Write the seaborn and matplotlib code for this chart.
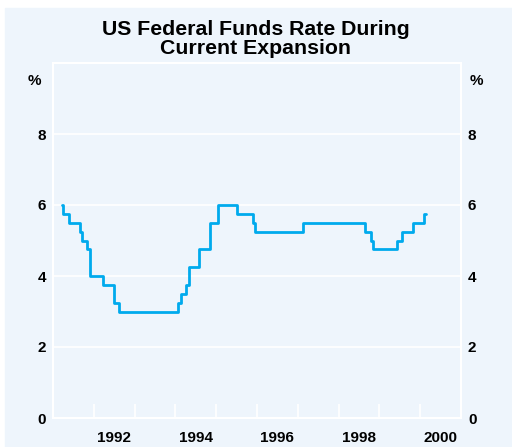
import numpy as np
import pandas as pd
import matplotlib
matplotlib.use("Agg")
import matplotlib.pyplot as plt
from matplotlib.patches import Rectangle
import seaborn as sns

# Fed funds target changes (decimal years)
dates = [1991.22, 1991.25, 1991.385, 1991.65, 1991.71, 1991.84, 1991.91,
         1992.23, 1992.50, 1992.62, 1994.07, 1994.13, 1994.25, 1994.33,
         1994.59, 1994.85, 1995.05, 1995.52, 1995.91, 1995.95, 1997.13,
         1998.65, 1998.80, 1998.85, 1999.42, 1999.55, 1999.83, 2000.09,
         2000.13]
rates = [6.0, 5.75, 5.5, 5.25, 5.0, 4.75, 4.0,
         3.75, 3.25, 3.0, 3.25, 3.5, 3.75, 4.25,
         4.75, 5.5, 6.0, 5.75, 5.5, 5.25, 5.5,
         5.25, 5.0, 4.75, 5.0, 5.25, 5.5, 5.75,
         5.75]
year_labels = ["1992", "1994", "1996", "1998", "2000"]
y_ticks = [0, 2, 4, 6, 8]

bg = "#eef5fc"
line_col = "#00aaed"
fs = 11

sns.set_theme(style="white", rc={"axes.facecolor": bg, "text.color": "black",
                                 "xtick.color": "black", "ytick.color": "black"})
plt.rcParams["font.family"] = ["Liberation Sans", "DejaVu Sans"]
plt.rcParams["font.weight"] = "bold"

df = pd.DataFrame({"date": dates, "rate": rates})

fig = plt.figure(figsize=(5.12, 4.47), dpi=100, facecolor="white")
# light blue panel behind everything
panel = Rectangle((5 / 512, 0), 1, (447 - 8) / 447,
                  transform=fig.transFigure, color=bg, zorder=-10)
fig.add_artist(panel)
ax = fig.add_axes([53 / 512, 29 / 447, 408 / 512, 355 / 447])
ax.set_facecolor(bg)
ax.set_zorder(5)

sns.lineplot(data=df, x="date", y="rate", ax=ax, color=line_col, lw=2.0,
             drawstyle="steps-post", estimator=None)

ax.set_xlim(1991, 2001)
ax.set_ylim(0, 10)
ax.set_xlabel("")
ax.set_ylabel("")

# year boundary ticks (white, pointing up) and labels centred in the year
ax.set_xticks(np.arange(1992, 2001))
ax.set_xticklabels([])
ax.tick_params(axis="x", which="major", direction="in", length=10,
               width=1.2, color="white", bottom=True)
ax.set_xticks([int(y) + 0.5 for y in year_labels], minor=True)
ax.set_xticklabels(year_labels, minor=True, fontsize=fs, fontweight="bold")
ax.tick_params(axis="x", which="minor", length=0, pad=9, labelcolor="black")

ax.set_yticks(y_ticks)
ax.set_yticklabels([str(v) for v in y_ticks], fontsize=fs, fontweight="bold")
ax.tick_params(axis="y", length=0, pad=5, left=True, right=True,
               labelleft=True, labelright=True, labelcolor="black")
ax.grid(axis="y", color="white", lw=1.2)
ax.grid(axis="x", visible=False)

for s in ax.spines.values():
    s.set_color("white")
    s.set_linewidth(1.5)

ax.text(-0.028, 0.948, "%", transform=ax.transAxes, ha="right", va="center",
        fontsize=fs, fontweight="bold")
ax.text(1.02, 0.948, "%", transform=ax.transAxes, ha="left", va="center",
        fontsize=fs, fontweight="bold")

fig.text(0.5, 0.913, "US Federal Funds Rate During\nCurrent Expansion",
         ha="center", va="center", fontsize=15.3, fontweight="bold",
         linespacing=1.05, color="black")

fig.savefig("out.png", dpi=100, facecolor="white")
